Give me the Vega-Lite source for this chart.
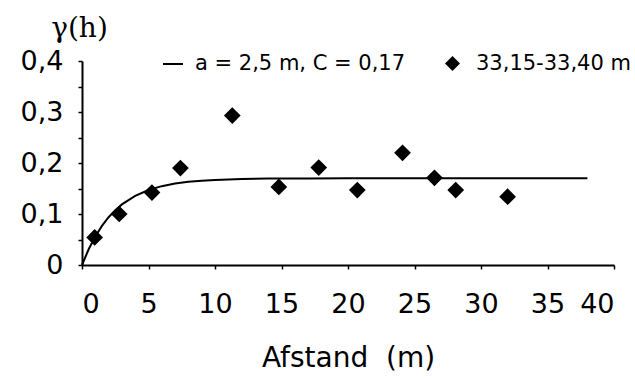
{
  "$schema": "https://vega.github.io/schema/vega-lite/v6.json",
  "width": 532,
  "height": 204,
  "autosize": {"type": "none"},
  "padding": {"left": 82, "top": 61, "right": 21, "bottom": 115},
  "background": "white",
  "config": {
    "view": {"stroke": null},
    "font": "DejaVu Sans",
    "axis": {
      "grid": false,
      "domainColor": "black",
      "domainWidth": 2,
      "tickColor": "black",
      "tickWidth": 1.5,
      "tickSize": 4,
      "labelColor": "black",
      "titleColor": "black",
      "labelFont": "DejaVu Sans",
      "titleFont": "DejaVu Sans",
      "titleFontWeight": "normal",
      "labelOverlap": false
    },
    "legend": {
      "labelFont": "DejaVu Sans",
      "labelFontSize": 21,
      "labelColor": "black",
      "labelLimit": 0,
      "padding": 0
    }
  },
  "datasets": {
    "model": [
      {"h": 0, "g": 0, "model": "a = 2,5 m, C = 0,17"},
      {"h": 0.5, "g": 0.0308, "model": "a = 2,5 m, C = 0,17"},
      {"h": 1, "g": 0.056, "model": "a = 2,5 m, C = 0,17"},
      {"h": 1.5, "g": 0.0767, "model": "a = 2,5 m, C = 0,17"},
      {"h": 2, "g": 0.0936, "model": "a = 2,5 m, C = 0,17"},
      {"h": 2.5, "g": 0.1075, "model": "a = 2,5 m, C = 0,17"},
      {"h": 3, "g": 0.1188, "model": "a = 2,5 m, C = 0,17"},
      {"h": 4, "g": 0.1357, "model": "a = 2,5 m, C = 0,17"},
      {"h": 5, "g": 0.147, "model": "a = 2,5 m, C = 0,17"},
      {"h": 6, "g": 0.1546, "model": "a = 2,5 m, C = 0,17"},
      {"h": 7, "g": 0.1597, "model": "a = 2,5 m, C = 0,17"},
      {"h": 8, "g": 0.1631, "model": "a = 2,5 m, C = 0,17"},
      {"h": 9, "g": 0.1654, "model": "a = 2,5 m, C = 0,17"},
      {"h": 10, "g": 0.1669, "model": "a = 2,5 m, C = 0,17"},
      {"h": 12, "g": 0.1686, "model": "a = 2,5 m, C = 0,17"},
      {"h": 14, "g": 0.1694, "model": "a = 2,5 m, C = 0,17"},
      {"h": 17, "g": 0.1698, "model": "a = 2,5 m, C = 0,17"},
      {"h": 20, "g": 0.17, "model": "a = 2,5 m, C = 0,17"},
      {"h": 38, "g": 0.17, "model": "a = 2,5 m, C = 0,17"}
    ],
    "obs": [
      {"h": 0.95, "g": 0.054, "series": "33,15-33,40 m"},
      {"h": 2.8, "g": 0.1, "series": "33,15-33,40 m"},
      {"h": 5.26, "g": 0.142, "series": "33,15-33,40 m"},
      {"h": 7.4, "g": 0.19, "series": "33,15-33,40 m"},
      {"h": 11.3, "g": 0.293, "series": "33,15-33,40 m"},
      {"h": 14.8, "g": 0.153, "series": "33,15-33,40 m"},
      {"h": 17.8, "g": 0.191, "series": "33,15-33,40 m"},
      {"h": 20.7, "g": 0.147, "series": "33,15-33,40 m"},
      {"h": 24.1, "g": 0.22, "series": "33,15-33,40 m"},
      {"h": 26.5, "g": 0.171, "series": "33,15-33,40 m"},
      {"h": 28.1, "g": 0.147, "series": "33,15-33,40 m"},
      {"h": 32.0, "g": 0.134, "series": "33,15-33,40 m"}
    ]
  },
  "encoding": {
    "x": {
      "field": "h",
      "type": "quantitative",
      "scale": {"domain": [0, 40], "nice": false, "zero": true},
      "axis": {
        "values": [0, 5, 10, 15, 20, 25, 30, 35, 40],
        "labelFontSize": 27,
        "labelPadding": 22,
        "title": "Afstand\u00a0 (m)",
        "titleFontSize": 28,
        "titlePadding": 27
      }
    },
    "y": {
      "field": "g",
      "type": "quantitative",
      "scale": {"domain": [0, 0.4], "nice": false},
      "axis": {
        "values": [0, 0.05, 0.1, 0.15, 0.2, 0.25, 0.3, 0.35, 0.4],
        "labelExpr": "datum.value == 0 ? '0' : (round(datum.value * 100) % 10 == 0 ? replace(format(datum.value, '.1f'), '.', ',') : '')",
        "labelFontSize": 27,
        "labelPadding": 15,
        "title": "γ(h)",
        "titleFont": "DejaVu Serif",
        "titleFontSize": 28,
        "titleAngle": 0,
        "titleAlign": "center",
        "titleBaseline": "alphabetic",
        "titleX": -3,
        "titleY": -25
      }
    }
  },
  "layer": [
    {
      "data": {"name": "model"},
      "mark": {"type": "line", "color": "black", "strokeWidth": 2},
      "encoding": {
        "color": {
          "field": "model",
          "type": "nominal",
          "scale": {"range": ["black"]},
          "legend": {
            "title": null,
            "orient": "none",
            "legendX": 80,
            "legendY": -8,
            "symbolType": "stroke",
            "symbolSize": 400,
            "symbolStrokeWidth": 2,
            "symbolStrokeColor": "black",
            "labelOffset": 11
          }
        }
      }
    },
    {
      "data": {"name": "obs"},
      "mark": {"type": "point", "filled": true, "color": "black", "opacity": 1, "size": 280},
      "encoding": {
        "shape": {
          "field": "series",
          "type": "nominal",
          "scale": {"range": ["diamond"]},
          "legend": {
            "title": null,
            "orient": "none",
            "legendX": 360,
            "legendY": -8,
            "symbolSize": 225,
            "symbolFillColor": "black",
            "symbolStrokeColor": "black",
            "symbolOpacity": 1,
            "labelOffset": 13
          }
        }
      }
    }
  ]
}
